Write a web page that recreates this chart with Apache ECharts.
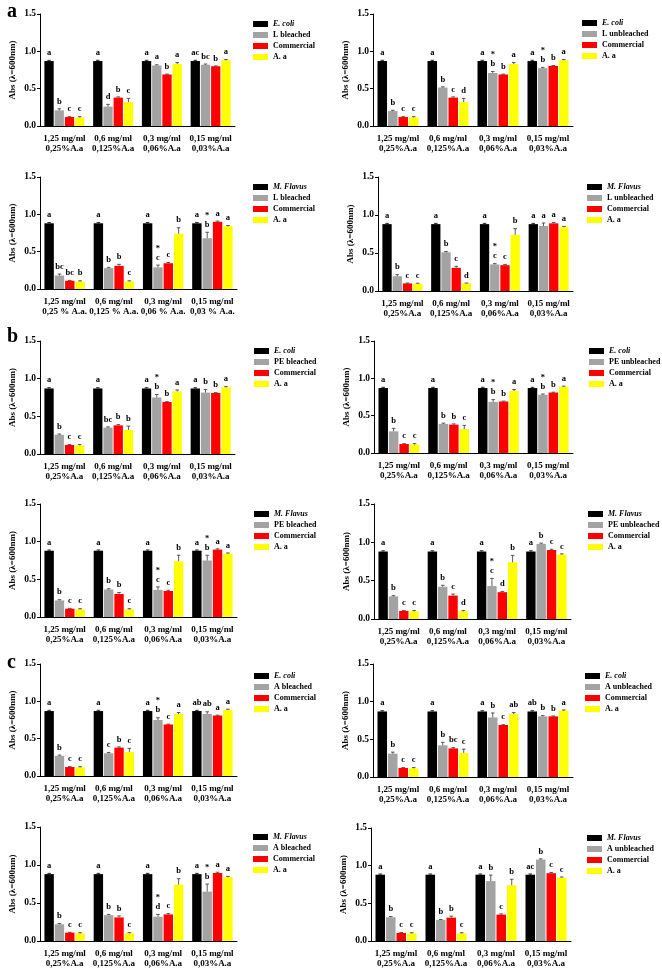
<!DOCTYPE html>
<html><head><meta charset="utf-8">
<script src="https://cdn.jsdelivr.net/npm/echarts@6/dist/echarts.min.js"></script>
<style>html,body{margin:0;padding:0;background:#fff}#c{width:662px;height:968px}</style>
</head><body><div id="c"></div>
<script>
// ---------- tick labels ----------
const concentrations = ['1,25 mg/ml\n0,25%A.a', '0,6 mg/ml\n0,125%A.a', '0,3 mg/ml\n0,06%A.a', '0,15 mg/ml\n0,03%A.a'];
const concentrationsSpaced = ['1,25 mg/ml\n0,25 % A.a.', '0,6 mg/ml\n0,125 % A.a.', '0,3 mg/ml\n0,06 % A.a.', '0,15 mg/ml\n0,03 % A.a.'];
const yTicks = [0.0, 0.5, 1.0, 1.5];
const sectionLetters = ['a', 'b', 'c'];
const organisms = ['E. coli', 'M. Flavus'];

// ---------- panel a1: E. coli / L bleached ----------
const a1Names = ['E. coli', 'L bleached', 'Commercial', 'A. a'];
const a1Values = [[0.87, 0.87, 0.87, 0.87], [0.21, 0.26, 0.81, 0.82], [0.12, 0.38, 0.69, 0.80], [0.115, 0.32, 0.83, 0.88]];
const a1Errors = [[0.01, 0.01, 0.01, 0.01], [0.02, 0.03, 0.01, 0.01], [0.005, 0.01, 0.005, 0.005], [0.01, 0.05, 0.02, 0.01]];
const a1Letters = [['a', 'a', 'a', 'ac'], ['b', 'd', 'a', 'bc'], ['c', 'b', 'b', 'b'], ['c', 'c', 'a', 'a']];

// ---------- panel a2: E. coli / L unbleached ----------
const a2Names = ['E. coli', 'L unbleached', 'Commercial', 'A. a'];
const a2Values = [[0.87, 0.87, 0.87, 0.87], [0.20, 0.515, 0.71, 0.775], [0.12, 0.38, 0.69, 0.805], [0.115, 0.32, 0.83, 0.88]];
const a2Errors = [[0.01, 0.01, 0.01, 0.01], [0.01, 0.01, 0.02, 0.01], [0.005, 0.01, 0.005, 0.005], [0.01, 0.05, 0.02, 0.01]];
const a2Letters = [['a', 'a', 'a', 'a'], ['b', 'b', '*\nb', '*\nb'], ['c', 'c', 'b', 'b'], ['c', 'd', 'a', 'a']];

// ---------- panel a3: M. Flavus / L bleached ----------
const a3Names = ['M. Flavus', 'L bleached', 'Commercial', 'A. a'];
const a3Values = [[0.88, 0.88, 0.88, 0.88], [0.18, 0.28, 0.29, 0.68], [0.11, 0.31, 0.345, 0.90], [0.10, 0.10, 0.74, 0.84]];
const a3Errors = [[0.01, 0.01, 0.01, 0.01], [0.02, 0.01, 0.03, 0.08], [0.005, 0.02, 0.01, 0.01], [0.01, 0.01, 0.08, 0.01]];
const a3Letters = [['a', 'a', 'a', 'a'], ['bc', 'b', '*\nc', '*\nb'], ['bc', 'b', 'c', 'a'], ['b', 'c', 'b', 'a']];

// ---------- panel a4: M. Flavus / L unbleached ----------
const a4Names = ['M. Flavus', 'L unbleached', 'Commercial', 'A. a'];
const a4Values = [[0.88, 0.88, 0.88, 0.88], [0.195, 0.51, 0.35, 0.855], [0.10, 0.305, 0.34, 0.89], [0.097, 0.10, 0.74, 0.84]];
const a4Errors = [[0.01, 0.01, 0.01, 0.01], [0.02, 0.01, 0.01, 0.04], [0.005, 0.02, 0.01, 0.01], [0.005, 0.005, 0.08, 0.01]];
const a4Letters = [['a', 'a', 'a', 'a'], ['b', 'b', '*\nc', 'a'], ['c', 'c', 'c', 'a'], ['c', 'd', 'b', 'a']];

// ---------- panel b1: E. coli / PE bleached ----------
const b1Names = ['E. coli', 'PE bleached', 'Commercial', 'A. a'];
const b1Values = [[0.87, 0.87, 0.87, 0.87], [0.255, 0.35, 0.75, 0.815], [0.12, 0.38, 0.69, 0.81], [0.115, 0.32, 0.83, 0.885]];
const b1Errors = [[0.01, 0.01, 0.01, 0.01], [0.01, 0.01, 0.04, 0.04], [0.005, 0.01, 0.005, 0.005], [0.01, 0.05, 0.02, 0.01]];
const b1Letters = [['a', 'a', 'a', 'a'], ['b', 'bc', '*\nb', 'b'], ['c', 'b', 'b', 'b'], ['c', 'b', 'a', 'a']];

// ---------- panel b2: E. coli / PE unbleached ----------
const b2Names = ['E. coli', 'PE unbleached', 'Commercial', 'A. a'];
const b2Values = [[0.87, 0.87, 0.87, 0.87], [0.29, 0.39, 0.685, 0.78], [0.12, 0.38, 0.69, 0.81], [0.115, 0.32, 0.83, 0.885]];
const b2Errors = [[0.01, 0.01, 0.01, 0.01], [0.04, 0.01, 0.03, 0.01], [0.005, 0.01, 0.005, 0.005], [0.01, 0.05, 0.02, 0.01]];
const b2Letters = [['a', 'a', 'a', 'a'], ['b', 'b', '*\nb', '*\nb'], ['c', 'b', 'b', 'b'], ['c', 'c', 'a', 'a']];

// ---------- panel b3: M. Flavus / PE bleached ----------
const b3Names = ['M. Flavus', 'PE bleached', 'Commercial', 'A. a'];
const b3Values = [[0.88, 0.88, 0.88, 0.88], [0.22, 0.365, 0.36, 0.75], [0.11, 0.305, 0.345, 0.895], [0.10, 0.10, 0.74, 0.84]];
const b3Errors = [[0.01, 0.01, 0.01, 0.01], [0.01, 0.01, 0.04, 0.07], [0.005, 0.02, 0.01, 0.01], [0.01, 0.01, 0.08, 0.01]];
const b3Letters = [['a', 'a', 'a', 'a'], ['b', 'b', '*\nc', '*\nb'], ['c', 'b', 'c', 'a'], ['c', 'c', 'b', 'a']];

// ---------- panel b4: M. Flavus / PE unbleached ----------
const b4Names = ['M. Flavus', 'PE unbleached', 'Commercial', 'A. a'];
const b4Values = [[0.88, 0.88, 0.88, 0.88], [0.295, 0.42, 0.43, 0.98], [0.105, 0.305, 0.35, 0.90], [0.10, 0.10, 0.74, 0.84]];
const b4Errors = [[0.01, 0.01, 0.01, 0.01], [0.01, 0.02, 0.10, 0.01], [0.005, 0.02, 0.01, 0.01], [0.01, 0.01, 0.09, 0.01]];
const b4Letters = [['a', 'a', 'a', 'a'], ['b', 'b', '*\nc', 'b'], ['c', 'c', 'd', 'c'], ['c', 'd', 'b', 'c']];

// ---------- panel c1: E. coli / A bleached ----------
const c1Names = ['E. coli', 'A bleached', 'Commercial', 'A. a'];
const c1Values = [[0.87, 0.87, 0.87, 0.87], [0.27, 0.305, 0.75, 0.83], [0.12, 0.38, 0.69, 0.81], [0.115, 0.32, 0.83, 0.885]];
const c1Errors = [[0.01, 0.01, 0.01, 0.01], [0.01, 0.01, 0.03, 0.03], [0.005, 0.01, 0.005, 0.005], [0.01, 0.05, 0.02, 0.01]];
const c1Letters = [['a', 'a', 'a', 'ab'], ['b', 'c', '*\nb', 'ab'], ['c', 'b', 'c', 'a'], ['c', 'c', 'a', 'a']];

// ---------- panel c2: E. coli / A unbleached ----------
const c2Names = ['E. coli', 'A unbleached', 'Commercial', 'A. a'];
const c2Values = [[0.87, 0.87, 0.87, 0.87], [0.31, 0.42, 0.79, 0.805], [0.12, 0.38, 0.69, 0.805], [0.115, 0.32, 0.835, 0.88]];
const c2Errors = [[0.01, 0.01, 0.01, 0.01], [0.02, 0.04, 0.06, 0.01], [0.005, 0.01, 0.005, 0.005], [0.01, 0.05, 0.02, 0.01]];
const c2Letters = [['a', 'a', 'a', 'ab'], ['b', 'b', 'b', 'b'], ['c', 'bc', 'c', 'b'], ['c', 'c', 'ab', 'a']];

// ---------- panel c3: M. Flavus / A bleached ----------
const c3Names = ['M. Flavus', 'A bleached', 'Commercial', 'A. a'];
const c3Values = [[0.88, 0.88, 0.88, 0.88], [0.22, 0.34, 0.32, 0.65], [0.11, 0.31, 0.35, 0.895], [0.10, 0.10, 0.74, 0.84]];
const c3Errors = [[0.01, 0.01, 0.01, 0.01], [0.01, 0.01, 0.03, 0.10], [0.005, 0.02, 0.01, 0.01], [0.01, 0.01, 0.08, 0.01]];
const c3Letters = [['a', 'a', 'a', 'a'], ['b', 'b', '*\nd', '*\nb'], ['c', 'b', 'c', 'a'], ['c', 'c', 'b', 'a']];

// ---------- panel c4: M. Flavus / A unbleached ----------
const c4Names = ['M. Flavus', 'A unbleached', 'Commercial', 'A. a'];
const c4Values = [[0.88, 0.88, 0.88, 0.88], [0.315, 0.28, 0.795, 1.08], [0.107, 0.31, 0.35, 0.90], [0.10, 0.10, 0.74, 0.84]];
const c4Errors = [[0.01, 0.01, 0.01, 0.01], [0.01, 0.005, 0.08, 0.01], [0.005, 0.02, 0.01, 0.01], [0.01, 0.01, 0.08, 0.01]];
const c4Letters = [['a', 'a', 'a', 'ac'], ['b', 'b', 'b', 'b'], ['c', 'b', 'c', 'c'], ['c', 'c', 'b', 'c']];

// ---------- assembly ----------
const panels = [
  [a1Names, a1Values, a1Errors, a1Letters, concentrations],
  [a2Names, a2Values, a2Errors, a2Letters, concentrations],
  [a3Names, a3Values, a3Errors, a3Letters, concentrationsSpaced],
  [a4Names, a4Values, a4Errors, a4Letters, concentrations],
  [b1Names, b1Values, b1Errors, b1Letters, concentrations],
  [b2Names, b2Values, b2Errors, b2Letters, concentrations],
  [b3Names, b3Values, b3Errors, b3Letters, concentrations],
  [b4Names, b4Values, b4Errors, b4Letters, concentrations],
  [c1Names, c1Values, c1Errors, c1Letters, concentrations],
  [c2Names, c2Values, c2Errors, c2Letters, concentrations],
  [c3Names, c3Values, c3Errors, c3Letters, concentrations],
  [c4Names, c4Values, c4Errors, c4Letters, concentrations]
];

// layout (pixels)
const layout = [
  { l: 40, t: 14, w: 195, h: 112, legL: 248, legT: 15 },
  { l: 373, t: 14, w: 200, h: 112, legL: 577, legT: 14 },
  { l: 40, t: 177, w: 197, h: 112, legL: 248, legT: 178 },
  { l: 378, t: 177, w: 195, h: 114, legL: 582, legT: 178 },
  { l: 40, t: 341, w: 195, h: 113, legL: 249, legT: 342 },
  { l: 374, t: 341, w: 199, h: 112, legL: 584, legT: 342 },
  { l: 40, t: 504, w: 197, h: 113, legL: 249, legT: 505 },
  { l: 374, t: 504, w: 197, h: 115, legL: 583, legT: 505 },
  { l: 40, t: 664, w: 197, h: 112, legL: 249, legT: 667 },
  { l: 373, t: 664, w: 200, h: 113, legL: 580, legT: 667 },
  { l: 40, t: 827, w: 197, h: 115, legL: 248, legT: 828 },
  { l: 371, t: 828, w: 200, h: 116, legL: 582, legT: 829 }
];
const sectionPos = [{ x: 2, y: -3 }, { x: 2, y: 322 }, { x: 2, y: 648 }];

const FONT = '"Liberation Serif", "DejaVu Serif", serif';
const COLORS = ['#000000', '#a3a3a3', '#ff0000', '#ffff00'];
const CAT_GAP = 0.18, BAR_GAP = 0.10;

const option = {
  animation: false,
  backgroundColor: '#ffffff',
  title: sectionLetters.map((s, i) => ({
    text: s, left: sectionPos[i].x, top: sectionPos[i].y,
    textStyle: { fontSize: 20, fontWeight: 'bold', fontFamily: FONT, color: '#000' }
  })),
  grid: [], xAxis: [], yAxis: [], legend: [], series: []
};

panels.forEach((p, i) => {
  const [names, values, errors, letters, cats] = p;
  const L = layout[i];
  option.grid.push({ left: L.l, top: L.t, width: L.w, height: L.h, containLabel: false });
  option.xAxis.push({
    type: 'category', gridIndex: i, data: cats,
    axisLine: { lineStyle: { color: '#000', width: 1 } },
    axisTick: { alignWithLabel: true, length: 3, lineStyle: { color: '#000' } },
    axisLabel: { interval: 0, margin: 8, fontSize: 9, fontWeight: 'bold', fontFamily: FONT, color: '#000', lineHeight: 9.5 }
  });
  option.yAxis.push({
    type: 'value', gridIndex: i, min: yTicks[0], max: yTicks[yTicks.length - 1], interval: yTicks[1] - yTicks[0],
    name: 'Abs (λ=600nm)', nameLocation: 'middle', nameRotate: 90, nameGap: 23,
    nameTextStyle: { fontSize: 9, fontWeight: 'bold', fontFamily: FONT, color: '#000' },
    axisLine: { show: true, lineStyle: { color: '#000', width: 1 } },
    axisTick: { show: true, length: 3, lineStyle: { color: '#000' } },
    splitLine: { show: false },
    axisLabel: { margin: 4, fontSize: 9.5, fontWeight: 'bold', fontFamily: FONT, color: '#000', formatter: v => v.toFixed(1) }
  });
  option.legend.push({
    orient: 'vertical', left: L.legL, top: L.legT, data: names, selectedMode: false,
    icon: 'rect', itemWidth: 15, itemHeight: 6, itemGap: 3,
    formatter: n => organisms.includes(n) ? '{i|' + n + '}' : '{b|' + n + '}',
    textStyle: {
      fontSize: 8, fontWeight: 'bold', fontFamily: FONT, color: '#000', lineHeight: 8,
      rich: {
        i: { fontSize: 8, fontStyle: 'italic', fontWeight: 'bold', fontFamily: FONT, color: '#000', lineHeight: 8 },
        b: { fontSize: 8, fontWeight: 'bold', fontFamily: FONT, color: '#000', lineHeight: 8 }
      }
    }
  });
  names.forEach((n, s) => {
    option.series.push({
      type: 'bar', name: n, xAxisIndex: i, yAxisIndex: i, data: values[s],
      barCategoryGap: (CAT_GAP * 100) + '%', barGap: (BAR_GAP * 100) + '%',
      itemStyle: { color: COLORS[s] }, silent: true
    });
  });
  // error bars + significance letters
  const items = [];
  for (let s = 0; s < 4; s++) for (let c = 0; c < 4; c++) {
    items.push({ s, c, v: values[s][c], e: errors[s][c], t: letters[s][c] });
  }
  option.series.push({
    type: 'custom', xAxisIndex: i, yAxisIndex: i, silent: true, z: 5,
    data: items.map(it => [it.c, it.v, it.e]),
    encode: { x: 0, y: 1 },
    renderItem: (params, api) => {
      const it = items[params.dataIndex];
      const band = api.size([1, 0])[0];
      const used = band * (1 - CAT_GAP);
      const bw = used / (4 + 3 * BAR_GAP);
      const center = api.coord([it.c, 0])[0];
      const x = center - used / 2 + it.s * bw * (1 + BAR_GAP) + bw / 2;
      const yBase = api.coord([it.c, it.v])[1];
      const yTop = api.coord([it.c, it.v + it.e])[1];
      const col = it.s === 0 ? '#000' : '#333';
      return {
        type: 'group', children: [
          { type: 'line', shape: { x1: x, y1: yBase, x2: x, y2: yTop }, style: { stroke: col, lineWidth: 0.8 } },
          { type: 'line', shape: { x1: x - 1.8, y1: yTop, x2: x + 1.8, y2: yTop }, style: { stroke: col, lineWidth: 0.8 } },
          { type: 'text', style: { text: it.t, x: x, y: yTop - 3, align: 'center', verticalAlign: 'bottom',
            fontSize: 8.5, fontWeight: 'bold', fontFamily: FONT, fill: '#000', lineHeight: 9 } }
        ]
      };
    }
  });
});

const chart = echarts.init(document.getElementById('c'), null, { renderer: 'canvas' });
chart.setOption(option);
</script>
</body></html>
